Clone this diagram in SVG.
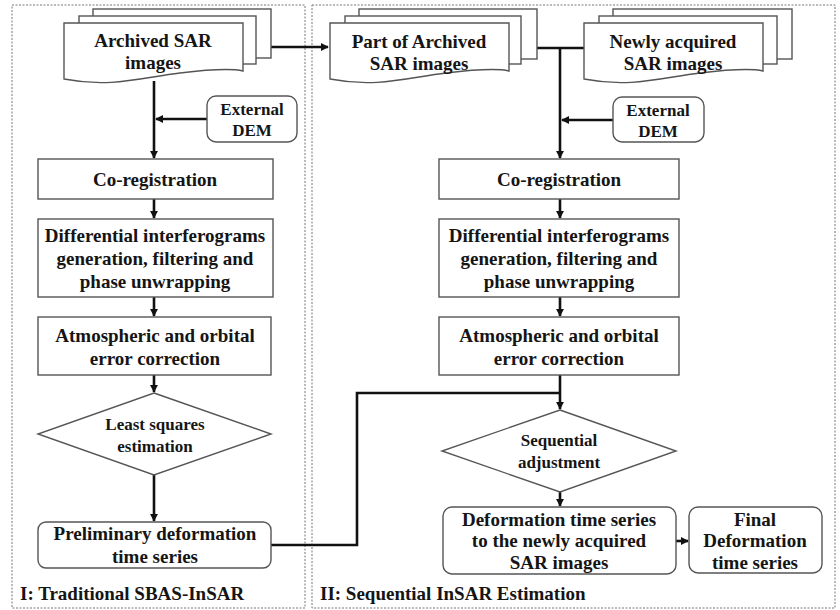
<svg xmlns="http://www.w3.org/2000/svg" width="840" height="610" viewBox="0 0 840 610">
<style>
text{font-family:"Liberation Serif","Times New Roman",serif;font-weight:bold;fill:#151515;text-anchor:middle}
.t19{font-size:19px}
.t17{font-size:17px}
.lbl{text-anchor:start;font-size:19px}
.box{fill:#fff;stroke:#555;stroke-width:1.4}
.panel{fill:none;stroke:#777;stroke-width:1;stroke-dasharray:2,1.5}
.conn{fill:none;stroke:#111;stroke-width:2.6}
</style>
<defs>
<marker id="ah" viewBox="0 0 10 10" refX="9" refY="5" markerWidth="3.2" markerHeight="3.2" orient="auto" markerUnits="strokeWidth">
<path d="M0,0 L10,5 L0,10 Z" fill="#111"/>
</marker>
</defs>
<rect width="840" height="610" fill="#fff"/>
<g id="panel1"><rect class="panel" x="12" y="5" width="293" height="603"/></g>
<g id="panel2"><rect class="panel" x="312" y="5" width="523" height="603"/></g>

<g id="connectors">
<line class="conn" x1="271" y1="47" x2="328" y2="47" marker-end="url(#ah)"/>
<line class="conn" x1="154" y1="81" x2="154" y2="158" marker-end="url(#ah)"/>
<line class="conn" x1="207" y1="119" x2="156" y2="119" marker-end="url(#ah)"/>
<line class="conn" x1="154" y1="199" x2="154" y2="218" marker-end="url(#ah)"/>
<line class="conn" x1="154" y1="297" x2="154" y2="316" marker-end="url(#ah)"/>
<line class="conn" x1="154" y1="375" x2="154" y2="392" marker-end="url(#ah)"/>
<line class="conn" x1="154" y1="475" x2="154" y2="521" marker-end="url(#ah)"/>
<line class="conn" x1="537" y1="48" x2="584" y2="48"/>
<line class="conn" x1="560" y1="48" x2="560" y2="158" marker-end="url(#ah)"/>
<line class="conn" x1="613" y1="120" x2="562" y2="120" marker-end="url(#ah)"/>
<line class="conn" x1="560" y1="199" x2="560" y2="218" marker-end="url(#ah)"/>
<line class="conn" x1="560" y1="297" x2="560" y2="316" marker-end="url(#ah)"/>
<line class="conn" x1="560" y1="375" x2="560" y2="409" marker-end="url(#ah)"/>
<polyline class="conn" points="271,545 357,545 357,393 560,393"/>
<line class="conn" x1="560" y1="492" x2="560" y2="506" marker-end="url(#ah)"/>
<line class="conn" x1="676" y1="541" x2="688" y2="541" marker-end="url(#ah)"/>
</g>

<g id="archived">
<rect class="box" x="93" y="9" width="178" height="49"/>
<rect class="box" x="79" y="16" width="177" height="48"/>
<path class="box" d="M64,23 H243 V71 C230,68 205,70 180,73 C140,78 110,88 64,79 Z"/>
<text class="t19" x="153" y="47">Archived SAR</text>
<text class="t19" x="153" y="69">images</text>
</g>

<g id="dem1">
<rect class="box" x="207" y="96" width="90" height="46" rx="9"/>
<text class="t17" x="252" y="115">External</text>
<text class="t17" x="252" y="136">DEM</text>
</g>

<g id="coreg1">
<rect class="box" x="38" y="159" width="235" height="40"/>
<text class="t19" x="155" y="186">Co-registration</text>
</g>

<g id="diff1">
<rect class="box" x="38" y="219" width="235" height="78"/>
<text class="t19" x="155" y="242">Differential interferograms</text>
<text class="t19" x="155" y="265">generation, filtering and</text>
<text class="t19" x="155" y="288">phase unwrapping</text>
</g>

<g id="atm1">
<rect class="box" x="38" y="317" width="233" height="58"/>
<text class="t19" x="155" y="342">Atmospheric and orbital</text>
<text class="t19" x="155" y="365">error correction</text>
</g>

<g id="lsq">
<polygon class="box" points="154,393 271,434 154,475 38,434"/>
<text class="t17" x="155" y="430">Least squares</text>
<text class="t17" x="155" y="452">estimation</text>
</g>

<g id="prelim">
<rect class="box" x="38" y="522" width="233" height="46" rx="8"/>
<text class="t19" x="155" y="540">Preliminary deformation</text>
<text class="t19" x="155" y="563">time series</text>
</g>

<g id="partarchived">
<rect class="box" x="359" y="9" width="178" height="50"/>
<rect class="box" x="345" y="16" width="176" height="48"/>
<path class="box" d="M330,23 H509 V71 C496,68 471,70 446,73 C406,78 376,88 330,79 Z"/>
<text class="t19" x="419" y="48">Part of Archived</text>
<text class="t19" x="419" y="70">SAR images</text>
</g>

<g id="newly">
<rect class="box" x="613" y="9" width="179" height="50"/>
<rect class="box" x="599" y="16" width="178" height="48"/>
<path class="box" d="M584,23 H763 V71 C750,68 725,70 700,73 C660,78 630,88 584,79 Z"/>
<text class="t19" x="673" y="48">Newly acquired</text>
<text class="t19" x="673" y="70">SAR images</text>
</g>

<g id="dem2">
<rect class="box" x="613" y="97" width="91" height="45" rx="9"/>
<text class="t17" x="658" y="116">External</text>
<text class="t17" x="658" y="137">DEM</text>
</g>

<g id="coreg2">
<rect class="box" x="439" y="159" width="240" height="40"/>
<text class="t19" x="559" y="186">Co-registration</text>
</g>

<g id="diff2">
<rect class="box" x="439" y="219" width="240" height="78"/>
<text class="t19" x="559" y="242">Differential interferograms</text>
<text class="t19" x="559" y="265">generation, filtering and</text>
<text class="t19" x="559" y="288">phase unwrapping</text>
</g>

<g id="atm2">
<rect class="box" x="439" y="317" width="240" height="58"/>
<text class="t19" x="559" y="342">Atmospheric and orbital</text>
<text class="t19" x="559" y="365">error correction</text>
</g>

<g id="seqadj">
<polygon class="box" points="560,410 676,451 560,492 442,451"/>
<text class="t17" x="559" y="446">Sequential</text>
<text class="t17" x="559" y="468">adjustment</text>
</g>

<g id="deftime">
<rect class="box" x="443" y="507" width="233" height="67" rx="9"/>
<text class="t19" x="559" y="526">Deformation time series</text>
<text class="t19" x="559" y="547">to the newly acquired</text>
<text class="t19" x="559" y="569">SAR images</text>
</g>

<g id="final">
<rect class="box" x="689" y="507" width="133" height="66" rx="9"/>
<text class="t19" x="755" y="526">Final</text>
<text class="t19" x="755" y="547">Deformation</text>
<text class="t19" x="755" y="569">time series</text>
</g>

<g id="labels">
<text class="lbl" x="20" y="600">I: Traditional SBAS-InSAR</text>
<text class="lbl" x="320" y="600">II: Sequential InSAR Estimation</text>
</g>
</svg>
